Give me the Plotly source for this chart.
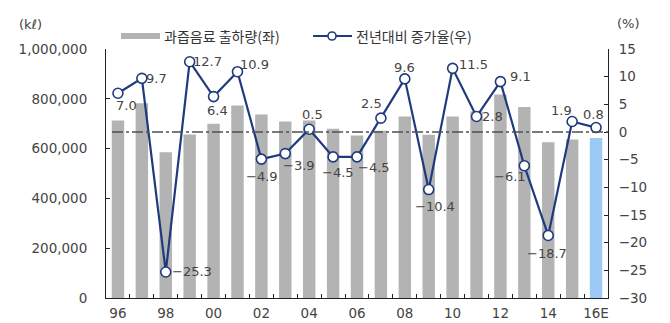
import plotly.graph_objects as go

# ---- data ----
years = ["96", "97", "98", "99", "00", "01", "02", "03", "04", "05", "06",
         "07", "08", "09", "10", "11", "12", "13", "14", "15", "16E"]
tick_text = ["96", "", "98", "", "00", "", "02", "", "04", "", "06",
             "", "08", "", "10", "", "12", "", "14", "", "16E"]
shipments = [713000, 782000, 585000, 657000, 700000, 773000, 737000, 709000,
             713000, 680000, 653000, 672000, 729000, 656000, 729000, 749000,
             817000, 767000, 625000, 637000, 643000]
growth = [7.0, 9.7, -25.3, 12.7, 6.4, 10.9, -4.9, -3.9, 0.5, -4.5, -4.5,
          2.5, 9.6, -10.4, 11.5, 2.8, 9.1, -6.1, -18.7, 1.9, 0.8]

# label offsets in px (dx right, dy down)
label_dx = [9, 15, 26, 18, 4, 17, 1, 14, 3, 5, 17, -9, 0, 6, 21, 16, 20, -14, -1, -11, -3]
label_dy = [12, 0, 0, 0, 14, -7, 17, 12, -15, 16, 11, -15, -11, 17, -4, 0, -5, 11, 18, -11, -13]

# ---- styles ----
GRAY = "#b3b3b3"
BLUE_BAR = "#9ccaf6"
NAVY = "#1f3a7d"
TXT = "#444444"
FONT = "DejaVu Sans, Noto Sans CJK KR"

idx = list(range(len(years)))
bar_colors = [GRAY] * (len(years) - 1) + [BLUE_BAR]

fig = go.Figure()
fig.add_trace(go.Bar(x=idx, y=shipments, marker=dict(color=bar_colors, line=dict(width=0)),
                     width=0.52, yaxis="y", showlegend=False, hoverinfo="skip"))
fig.add_trace(go.Scatter(x=idx, y=growth, yaxis="y2", mode="lines+markers",
                         line=dict(color=NAVY, width=2.2),
                         marker=dict(symbol="circle", size=10, color="white",
                                     line=dict(color=NAVY, width=1.6)),
                         showlegend=False))

annotations = []
for i, v, dx, dy in zip(idx, growth, label_dx, label_dy):
    annotations.append(dict(x=i, y=v, xref="x", yref="y2", xanchor="center", yanchor="middle",
                            text=f"{v:.1f}".replace("-", "\u2212"),
                            showarrow=False, xshift=dx, yshift=-dy,
                            font=dict(family=FONT, size=13, color=TXT)))

# plot area pixel geometry for paper conversions
L, R, T, B = 106, 608, 49, 298
W, H = R - L, B - T
px = lambda x: (x - L) / W
py = lambda y: (B - y) / H

def paper_text(x, y, text, anchor="center", family=FONT, size=13, color=TXT):
    return dict(x=px(x), y=py(y), xref="paper", yref="paper", xanchor=anchor, yanchor="middle",
                text=text, showarrow=False, font=dict(family=family, size=size, color=color))

annotations += [
    paper_text(30, 25, "(k\u2113)"),
    paper_text(628, 23, "(%)"),
    paper_text(162, 36, "과즙음료 출하량(좌)", "left", "Noto Sans CJK KR", 14, "#333"),
    paper_text(354, 36, "전년대비 증가율(우)", "left", "Noto Sans CJK KR", 14, "#333"),
]

shapes = [
    # zero reference line on right axis
    dict(type="line", xref="paper", yref="y2", x0=px(112), x1=1, y0=0, y1=0,
         line=dict(color="#505050", width=1.3, dash="11px,3px,3px,3px"), layer="above"),
    # legend symbols
    dict(type="rect", xref="paper", yref="paper", x0=px(121), x1=px(160), y0=py(39), y1=py(33),
         fillcolor=GRAY, line=dict(width=0)),
    dict(type="line", xref="paper", yref="paper", x0=px(313), x1=px(352), y0=py(36), y1=py(36),
         line=dict(color=NAVY, width=2.2)),
    dict(type="circle", xref="paper", yref="paper", x0=px(328), x1=px(336), y0=py(40), y1=py(32),
         fillcolor="white", line=dict(color=NAVY, width=1.6)),
]

axis_common = dict(showgrid=False, zeroline=False, showline=True, linecolor="#222",
                   linewidth=1, ticks="inside", ticklen=4, tickcolor="#222", automargin=False,
                   tickfont=dict(family=FONT, size=13.5, color=TXT))

fig.update_layout(
    width=670, height=323,
    margin=dict(l=L, r=670 - R, t=T, b=323 - B),
    plot_bgcolor="white", paper_bgcolor="white",
    xaxis=dict(type="linear", tickmode="array",
               tickvals=idx, ticktext=tick_text, range=[-0.5, len(years) - 0.5],
               tickangle=0, ticks="", ticklabelstandoff=3,
               **{k: v for k, v in axis_common.items() if k != "ticks"}),
    xaxis2=dict(overlaying="x", range=[-0.5, len(years) - 0.5], tickmode="array",
                tickvals=[i + 0.5 for i in idx[:-1]], showticklabels=False, ticks="inside",
                ticklen=4, tickcolor="#222", showgrid=False, zeroline=False, showline=False,
                side="bottom", anchor="y"),
    yaxis=dict(range=[0, 1000000], dtick=200000, tickformat=",", side="left",
               ticklabelstandoff=15, **axis_common),
    yaxis2=dict(range=[-30, 15], dtick=5, overlaying="y", side="right",
                ticklabelstandoff=7, **axis_common),
    annotations=annotations, shapes=shapes,
    showlegend=False,
)
# invisible trace to activate the boundary-tick axis
fig.add_trace(go.Scatter(x=[0], y=[0], xaxis="x2", yaxis="y", mode="markers",
                         marker=dict(opacity=0), showlegend=False, hoverinfo="skip"))

fig.write_html("out.html")
